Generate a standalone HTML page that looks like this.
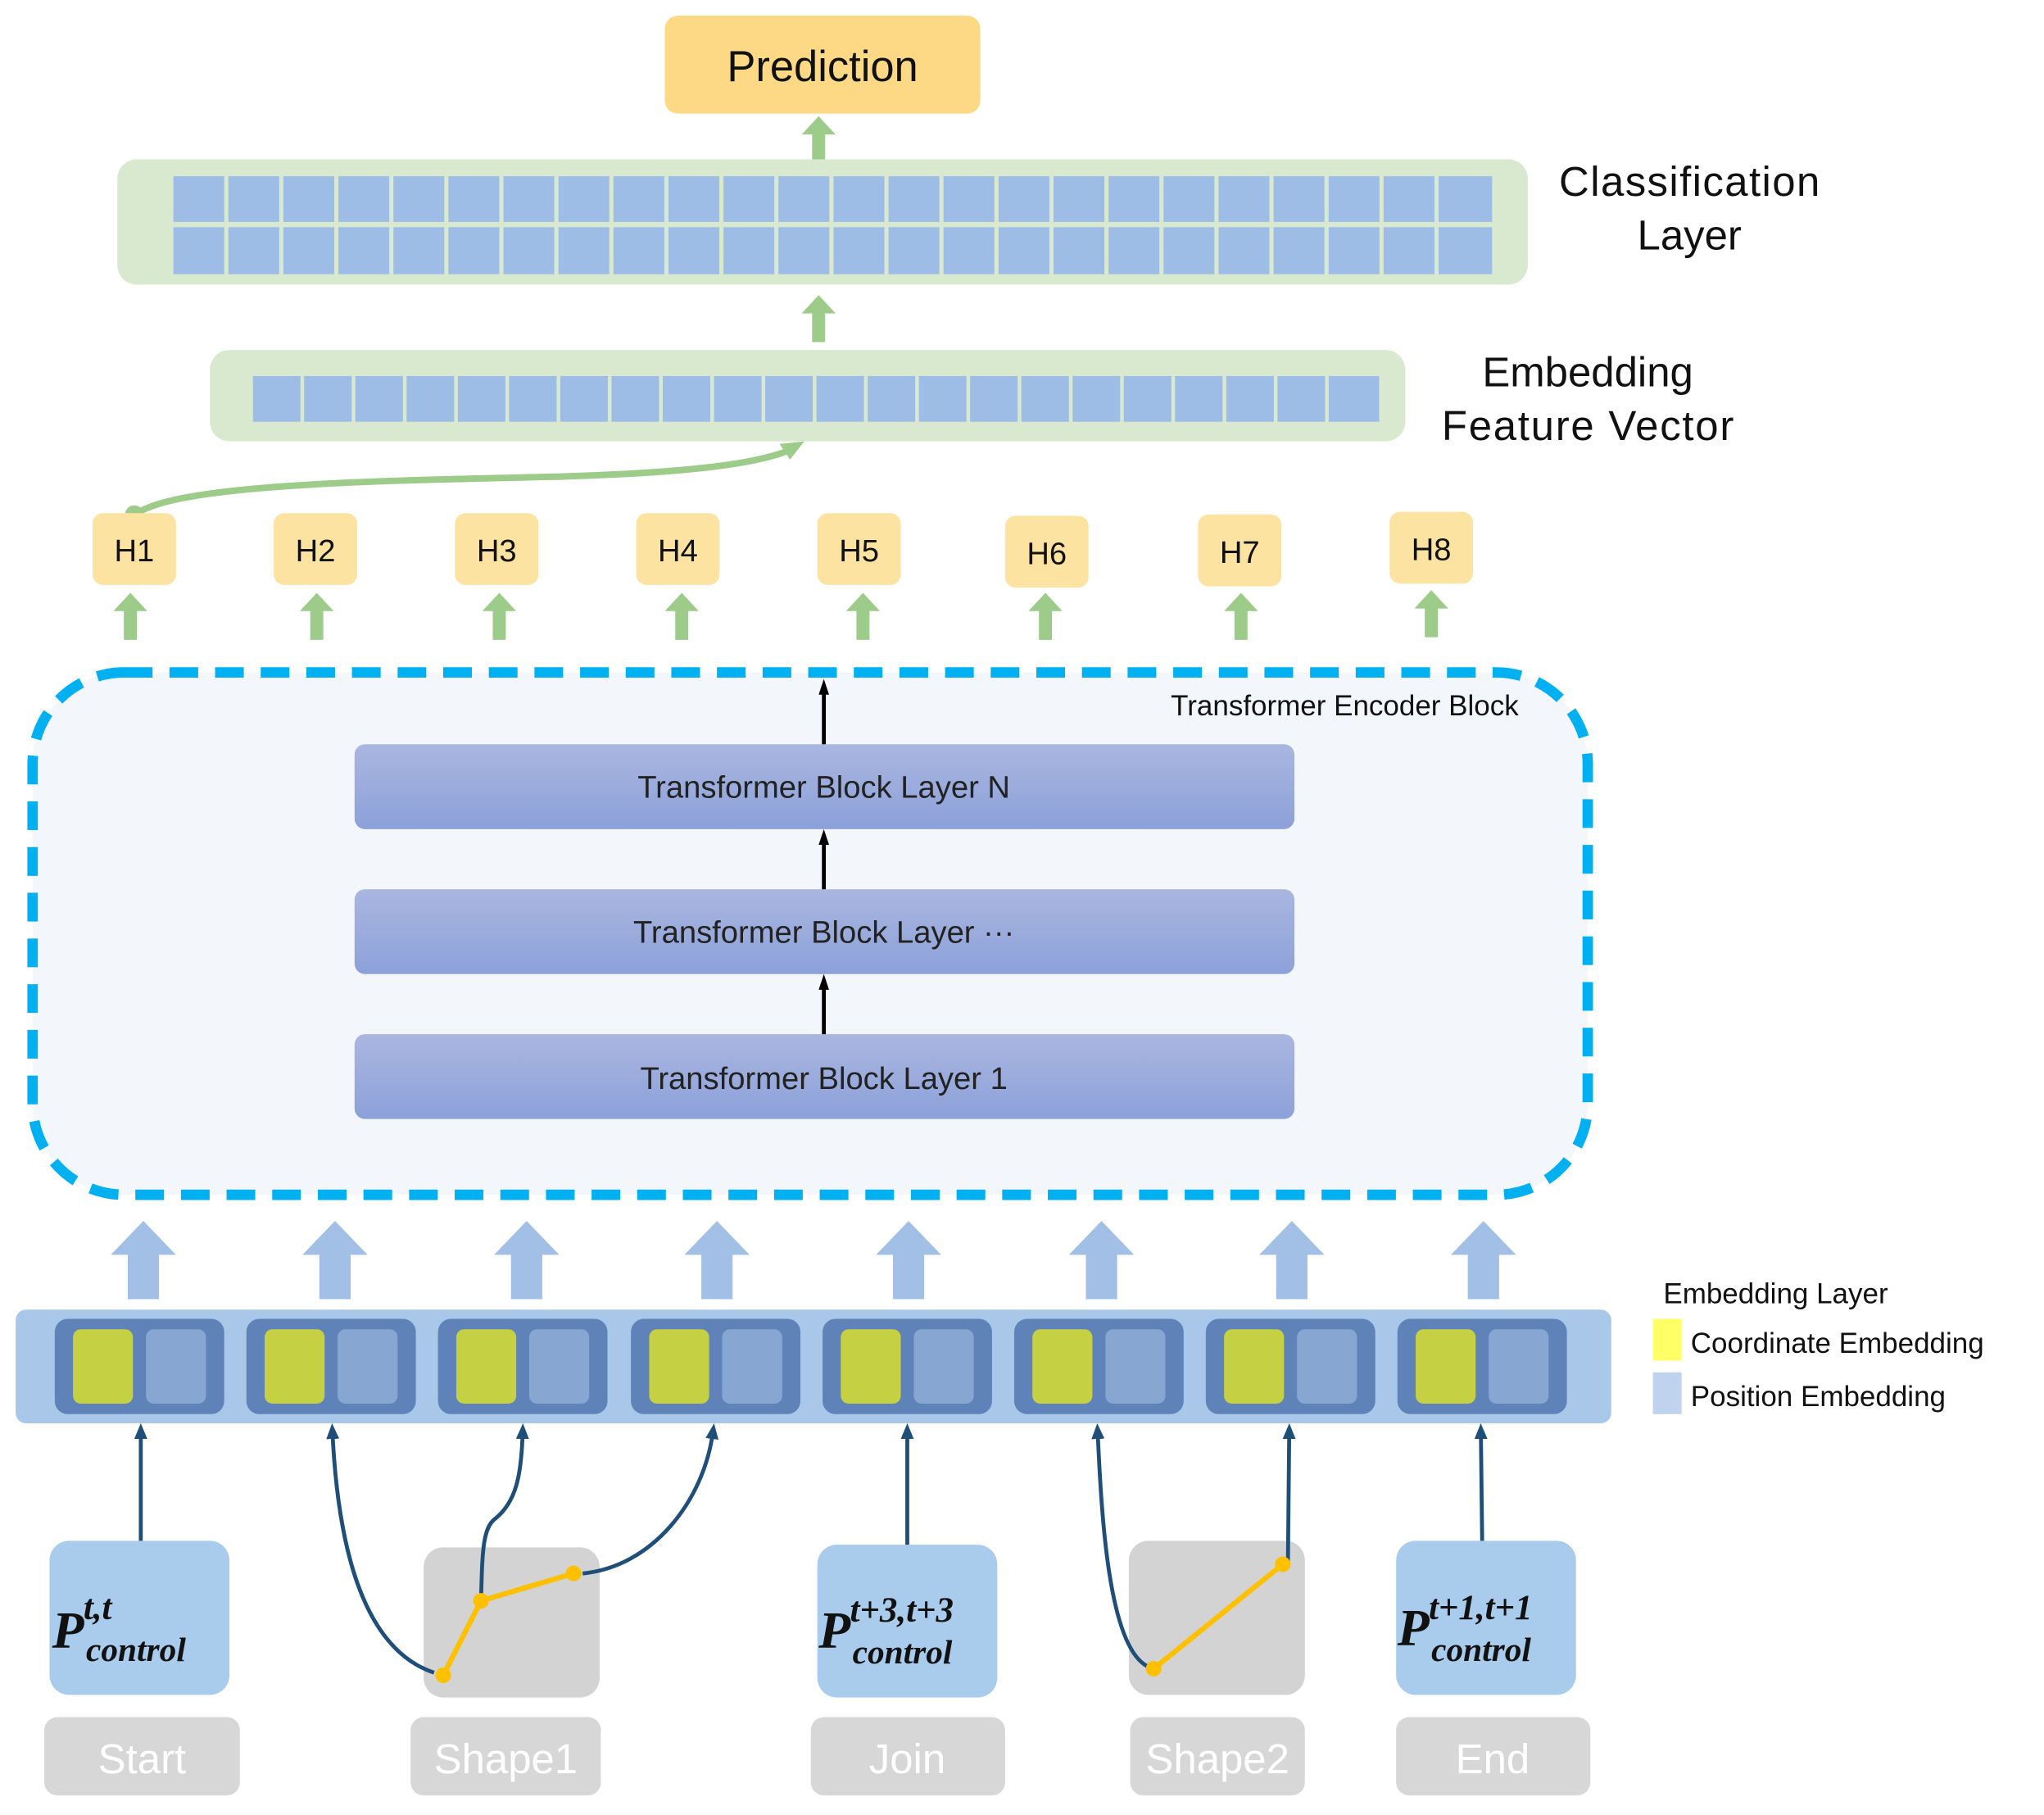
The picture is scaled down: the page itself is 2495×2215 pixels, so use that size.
<!DOCTYPE html>
<html><head><meta charset="utf-8"><style>
html,body{margin:0;padding:0;background:#fff;}
svg{display:block;}
</style></head><body>
<svg xmlns="http://www.w3.org/2000/svg" width="2495" height="2215" viewBox="0 0 1568 1390" preserveAspectRatio="none">
<defs>
<linearGradient id="tb" x1="0" y1="0" x2="0" y2="1"><stop offset="0" stop-color="#A9B6E0"/><stop offset="1" stop-color="#8CA1D9"/></linearGradient>
<marker id="ah" markerUnits="userSpaceOnUse" markerWidth="12" markerHeight="10" refX="6" refY="5" orient="auto"><path d="M0,0 L12,5 L0,10 Z" fill="#1F4E79"/></marker>
<marker id="bk" markerUnits="userSpaceOnUse" markerWidth="12" markerHeight="8" refX="6" refY="4" orient="auto"><path d="M0,0 L12,4 L0,8 Z" fill="#000"/></marker>
<g id="garr"><path d="M-5,0 L5,0 L5,-22 L13,-22 L0,-36 L-13,-22 L-5,-22 Z" fill="#9DCB8A"/></g>
<g id="barr"><path d="M-12,0 L12,0 L12,-34 L25,-34 L0,-60 L-25,-34 L-12,-34 Z" fill="#A2C0E6"/></g>
<g id="tok"><rect x="0" y="0" width="130" height="73" rx="10" fill="#5F82B8"/><rect x="14" y="8" width="46" height="57" rx="6" fill="#C5D142"/><rect x="70" y="8" width="46" height="57" rx="6" fill="#87A7D2"/></g>
</defs>
<g font-family="Liberation Sans, DejaVu Sans, sans-serif">
<rect x="510" y="12" width="242" height="75" rx="10" fill="#FDD985"/>
<text x="631" y="62" font-size="33" text-anchor="middle" fill="#111">Prediction</text>
<use href="#garr" x="628" y="125"/>
<rect x="90" y="122" width="1082" height="96" rx="15" fill="#D9E9CF"/>
<text x="1296" y="150" font-size="32" text-anchor="middle" fill="#111" textLength="200">Classification</text>
<text x="1296" y="191" font-size="32" text-anchor="middle" fill="#111">Layer</text>
<use href="#garr" x="628" y="262"/>
<rect x="161" y="268" width="917" height="70" rx="15" fill="#D9E9CF"/>
<text x="1218" y="296" font-size="32" text-anchor="middle" fill="#111">Embedding</text>
<text x="1218" y="337" font-size="32" text-anchor="middle" fill="#111" textLength="224">Feature Vector</text>
<path d="M103,395 C130,370 300,368 430,365 C530,362 580,355 605,345" stroke="#9DCB8A" stroke-width="5" fill="none"/>
<path d="M617,338 L598,340 L606,352 Z" fill="#9DCB8A"/>
<circle cx="103" cy="394" r="7" fill="#9DCB8A"/>
<g font-size="24" text-anchor="middle" fill="#111">
<rect x="71" y="393" width="64" height="55" rx="8" fill="#FDE3A1"/><text x="103" y="430">H1</text>
<rect x="210" y="393" width="64" height="55" rx="8" fill="#FDE3A1"/><text x="242" y="430">H2</text>
<rect x="349" y="393" width="64" height="55" rx="8" fill="#FDE3A1"/><text x="381" y="430">H3</text>
<rect x="488" y="393" width="64" height="55" rx="8" fill="#FDE3A1"/><text x="520" y="430">H4</text>
<rect x="627" y="393" width="64" height="55" rx="8" fill="#FDE3A1"/><text x="659" y="430">H5</text>
<rect x="771" y="395" width="64" height="55" rx="8" fill="#FDE3A1"/><text x="803" y="432">H6</text>
<rect x="919" y="394" width="64" height="55" rx="8" fill="#FDE3A1"/><text x="951" y="431">H7</text>
<rect x="1066" y="392" width="64" height="55" rx="8" fill="#FDE3A1"/><text x="1098" y="429">H8</text>
</g>
<use href="#garr" x="100" y="490"/><use href="#garr" x="243" y="490"/><use href="#garr" x="383" y="490"/><use href="#garr" x="523" y="490"/><use href="#garr" x="662" y="490"/><use href="#garr" x="802" y="490"/><use href="#garr" x="952" y="490"/><use href="#garr" x="1098" y="488"/>
<rect x="25" y="515" width="1193" height="400" rx="70" fill="#F3F6FB" stroke="#00B0F0" stroke-width="8" stroke-dasharray="22 13"/>
<text x="1165" y="548" font-size="22" text-anchor="end" fill="#111">Transformer Encoder Block</text>
<rect x="272" y="570" width="721" height="65" rx="8" fill="url(#tb)"/>
<rect x="272" y="681" width="721" height="65" rx="8" fill="url(#tb)"/>
<rect x="272" y="792" width="721" height="65" rx="8" fill="url(#tb)"/>
<g font-size="24" text-anchor="middle" fill="#222">
<text x="632" y="611">Transformer Block Layer N</text>
<text x="632" y="722">Transformer Block Layer ···</text>
<text x="632" y="834">Transformer Block Layer 1</text>
</g>
<line x1="632" y1="570" x2="632" y2="526" stroke="#000" stroke-width="3" marker-end="url(#bk)"/>
<line x1="632" y1="681" x2="632" y2="641" stroke="#000" stroke-width="3" marker-end="url(#bk)"/>
<line x1="632" y1="792" x2="632" y2="752" stroke="#000" stroke-width="3" marker-end="url(#bk)"/>
<use href="#barr" x="110" y="995"/><use href="#barr" x="257" y="995"/><use href="#barr" x="404" y="995"/><use href="#barr" x="550" y="995"/><use href="#barr" x="697" y="995"/><use href="#barr" x="845" y="995"/><use href="#barr" x="991" y="995"/><use href="#barr" x="1138" y="995"/>
<rect x="12" y="1003" width="1224" height="87" rx="8" fill="#A9C8E9"/>
<use href="#tok" x="42" y="1010"/><use href="#tok" x="189" y="1010"/><use href="#tok" x="336" y="1010"/><use href="#tok" x="484" y="1010"/><use href="#tok" x="631" y="1010"/><use href="#tok" x="778" y="1010"/><use href="#tok" x="925" y="1010"/><use href="#tok" x="1072" y="1010"/>
<text x="1276" y="998" font-size="22" fill="#111">Embedding Layer</text>
<rect x="1268" y="1010" width="22" height="32" fill="#FFFF66"/>
<text x="1297" y="1036" font-size="22" fill="#111">Coordinate Embedding</text>
<rect x="1268" y="1051" width="22" height="32" fill="#BFD3EE"/>
<text x="1297" y="1077" font-size="22" fill="#111">Position Embedding</text>
<rect x="38" y="1180" width="138" height="118" rx="15" fill="#A9CBEC"/>
<rect x="325" y="1185" width="135" height="115" rx="15" fill="#D3D3D3"/>
<rect x="627" y="1183" width="138" height="117" rx="15" fill="#A9CBEC"/>
<rect x="866" y="1180" width="135" height="118" rx="15" fill="#D3D3D3"/>
<rect x="1071" y="1180" width="138" height="118" rx="15" fill="#A9CBEC"/>
<g fill="#D7D7D7">
<rect x="34" y="1315" width="150" height="60" rx="10"/>
<rect x="315" y="1315" width="146" height="60" rx="10"/>
<rect x="622" y="1315" width="149" height="60" rx="10"/>
<rect x="867" y="1315" width="134" height="60" rx="10"/>
<rect x="1071" y="1315" width="149" height="60" rx="10"/>
</g>
<g font-size="32" fill="#fff" text-anchor="middle">
<text x="109" y="1358">Start</text><text x="388" y="1358">Shape1</text><text x="696" y="1358">Join</text><text x="934" y="1358">Shape2</text><text x="1145" y="1358">End</text>
</g>
<g font-family="Liberation Serif, DejaVu Serif, serif" font-weight="bold" font-style="italic" fill="#111">
<text x="40" y="1262" font-size="40">P</text><text x="64" y="1240" font-size="27">t,t</text><text x="66" y="1272" font-size="26">control</text>
<text x="628" y="1262" font-size="40">P</text><text x="652" y="1242" font-size="27">t+3,t+3</text><text x="654" y="1274" font-size="26">control</text>
<text x="1072" y="1260" font-size="40">P</text><text x="1096" y="1240" font-size="27">t+1,t+1</text><text x="1098" y="1272" font-size="26">control</text>
</g>
<g stroke="#1F4E79" stroke-width="3" fill="none">
<line x1="108" y1="1180" x2="108" y2="1096" marker-end="url(#ah)"/>
<path d="M333,1281 C270,1260 258,1160 255,1096" marker-end="url(#ah)"/>
<path d="M369,1226 C370,1190 370,1170 380,1163 C396,1150 400,1130 401,1096" marker-end="url(#ah)"/>
<path d="M447,1205 C500,1200 540,1150 547,1096" marker-end="url(#ah)"/>
<line x1="696" y1="1183" x2="696" y2="1096" marker-end="url(#ah)"/>
<path d="M880,1276 C850,1260 845,1160 842,1096" marker-end="url(#ah)"/>
<line x1="988" y1="1198" x2="989" y2="1096" marker-end="url(#ah)"/>
<line x1="1137" y1="1180" x2="1136" y2="1096" marker-end="url(#ah)"/>
</g>
<g stroke="#FFC000" stroke-width="4" fill="none">
<polyline points="340,1283 369,1226 440,1205"/>
<line x1="885" y1="1278" x2="984" y2="1198"/>
</g>
<g fill="#FFC000">
<circle cx="340" cy="1283" r="6"/><circle cx="369" cy="1226" r="6"/><circle cx="440" cy="1205" r="6"/><circle cx="885" cy="1278" r="6"/><circle cx="984" cy="1198" r="6"/>
</g>
<g fill="#9DBDE6">
<rect x="133" y="135" width="39" height="35"/><rect x="175.2" y="135" width="39" height="35"/><rect x="217.4" y="135" width="39" height="35"/><rect x="259.6" y="135" width="39" height="35"/><rect x="301.8" y="135" width="39" height="35"/><rect x="344" y="135" width="39" height="35"/><rect x="386.2" y="135" width="39" height="35"/><rect x="428.4" y="135" width="39" height="35"/><rect x="470.6" y="135" width="39" height="35"/><rect x="512.8" y="135" width="39" height="35"/><rect x="555" y="135" width="39" height="35"/><rect x="597.2" y="135" width="39" height="35"/><rect x="639.4" y="135" width="39" height="35"/><rect x="681.6" y="135" width="39" height="35"/><rect x="723.8" y="135" width="39" height="35"/><rect x="766" y="135" width="39" height="35"/><rect x="808.2" y="135" width="39" height="35"/><rect x="850.4" y="135" width="39" height="35"/><rect x="892.6" y="135" width="39" height="35"/><rect x="934.8" y="135" width="39" height="35"/><rect x="977" y="135" width="39" height="35"/><rect x="1019.2" y="135" width="39" height="35"/><rect x="1061.4" y="135" width="39" height="35"/><rect x="1103.6" y="135" width="41" height="35"/>
<rect x="133" y="174" width="39" height="36"/><rect x="175.2" y="174" width="39" height="36"/><rect x="217.4" y="174" width="39" height="36"/><rect x="259.6" y="174" width="39" height="36"/><rect x="301.8" y="174" width="39" height="36"/><rect x="344" y="174" width="39" height="36"/><rect x="386.2" y="174" width="39" height="36"/><rect x="428.4" y="174" width="39" height="36"/><rect x="470.6" y="174" width="39" height="36"/><rect x="512.8" y="174" width="39" height="36"/><rect x="555" y="174" width="39" height="36"/><rect x="597.2" y="174" width="39" height="36"/><rect x="639.4" y="174" width="39" height="36"/><rect x="681.6" y="174" width="39" height="36"/><rect x="723.8" y="174" width="39" height="36"/><rect x="766" y="174" width="39" height="36"/><rect x="808.2" y="174" width="39" height="36"/><rect x="850.4" y="174" width="39" height="36"/><rect x="892.6" y="174" width="39" height="36"/><rect x="934.8" y="174" width="39" height="36"/><rect x="977" y="174" width="39" height="36"/><rect x="1019.2" y="174" width="39" height="36"/><rect x="1061.4" y="174" width="39" height="36"/><rect x="1103.6" y="174" width="41" height="36"/>
<rect x="194" y="288" width="36.5" height="35"/><rect x="233.3" y="288" width="36.5" height="35"/><rect x="272.6" y="288" width="36.5" height="35"/><rect x="311.9" y="288" width="36.5" height="35"/><rect x="351.2" y="288" width="36.5" height="35"/><rect x="390.5" y="288" width="36.5" height="35"/><rect x="429.8" y="288" width="36.5" height="35"/><rect x="469.1" y="288" width="36.5" height="35"/><rect x="508.4" y="288" width="36.5" height="35"/><rect x="547.7" y="288" width="36.5" height="35"/><rect x="587" y="288" width="36.5" height="35"/><rect x="626.3" y="288" width="36.5" height="35"/><rect x="665.6" y="288" width="36.5" height="35"/><rect x="704.9" y="288" width="36.5" height="35"/><rect x="744.2" y="288" width="36.5" height="35"/><rect x="783.5" y="288" width="36.5" height="35"/><rect x="822.8" y="288" width="36.5" height="35"/><rect x="862.1" y="288" width="36.5" height="35"/><rect x="901.4" y="288" width="36.5" height="35"/><rect x="940.7" y="288" width="36.5" height="35"/><rect x="980" y="288" width="36.5" height="35"/><rect x="1019.3" y="288" width="38.7" height="35"/>
</g>
</g>
</svg>
</body></html>
